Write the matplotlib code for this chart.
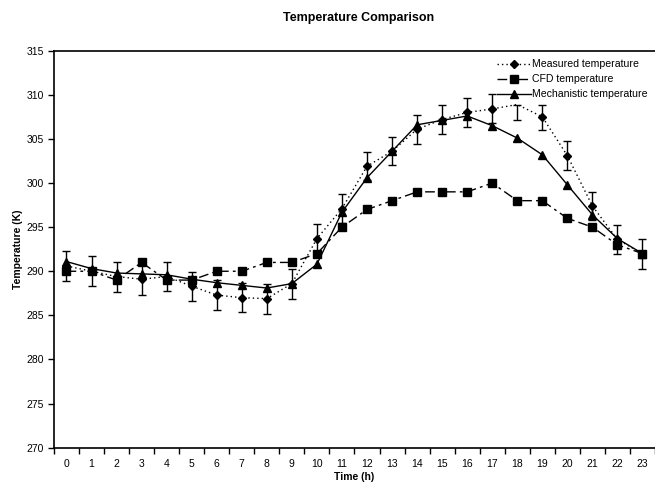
# -*- coding: utf-8 -*-

#%% Import required libraries
import matplotlib
matplotlib.use('Agg')
import matplotlib.pyplot as plt
import numpy as np

plt.rcParams['font.family'] = ['Liberation Sans', 'DejaVu Sans']

#%% Data
hours = list(range(24))
hour_labels = [str(h) for h in hours]

measured = [290.6, 290.0, 289.4, 289.1, 289.4, 288.3, 287.3, 287.0, 286.9, 288.6,
            293.7, 297.1, 301.9, 303.6, 306.1, 307.2, 308.0, 308.4, 308.9, 307.5,
            303.1, 297.4, 293.6, 292.0]
measured_err_low = [1.65, 1.7, 1.7, 1.8, 1.65, 1.65, 1.7, 1.65, 1.7, 1.7,
                    1.65, 1.65, 1.6, 1.6, 1.65, 1.65, 1.65, 1.65, 1.75, 1.5,
                    1.65, 1.6, 1.65, 1.7]
measured_err_high = [1.65, 1.7, 1.7, 1.8, 1.65, 1.65, 1.7, 1.65, 1.7, 1.7,
                     1.65, 1.65, 1.6, 1.6, 1.65, 1.65, 1.65, 1.65, 0.0, 1.3,
                     1.65, 1.6, 1.65, 1.7]
cfd = [290, 290, 289, 291, 289, 289, 290, 290, 291, 291,
       292, 295, 297, 298, 299, 299, 299, 300, 298, 298,
       296, 295, 293, 292]
mechanistic = [291.1, 290.3, 289.8, 289.7, 289.6, 289.1, 288.7, 288.4, 288.1, 288.6,
               290.8, 296.7, 300.6, 303.6, 306.6, 307.1, 307.6, 306.5, 305.1, 303.2,
               299.8, 296.4, 293.7, 292.0]

#%% Plot
fig = plt.figure(figsize=(6.55, 4.86), dpi=100)
ax = fig.add_axes([0.0824, 0.0788, 0.9176, 0.8169])

x = np.array(hours)
# no marker where the reference shows none (hour 18)
meas_marks = [i for i in hours if i != 18]

ax.errorbar(x, measured, yerr=[measured_err_low, measured_err_high], fmt='none',
            ecolor='black', elinewidth=1.0, capsize=3, capthick=1.0, zorder=2)
ax.plot(x, measured, color='black', linestyle=(0, (1, 2.2)), linewidth=1.0,
        marker='D', markersize=4.4, markevery=meas_marks, label='Measured temperature', zorder=3)
ax.plot(x, cfd, color='black', linestyle=(0, (7, 3, 2, 3)), linewidth=1.0,
        marker='s', markersize=5.2, label='CFD temperature', zorder=3)
ax.plot(x, mechanistic, color='black', linestyle='-', linewidth=1.0,
        marker='^', markersize=5.2, label='Mechanistic temperature', zorder=3)

ax.set_xlim(-0.5, 23.5)
ax.set_ylim(270, 315)
ax.set_yticks(np.arange(270, 316, 5))
ax.set_xticks(x)
ax.set_xticklabels(hour_labels)
ax.set_xticks(np.arange(-0.5, 24, 1), minor=True)
ax.tick_params(axis='x', which='major', length=0, labelsize=7.5, pad=8)
ax.tick_params(axis='x', which='minor', length=4, width=1, direction='out')
ax.tick_params(axis='y', length=4, width=1, direction='out', labelsize=7.5, pad=3)

for s in ['left', 'bottom', 'top']:
    ax.spines[s].set_linewidth(1.2)
ax.spines['right'].set_visible(False)

ax.set_xlabel('Time (h)', fontsize=7.5, fontweight='bold', labelpad=2.5)
ax.set_ylabel('Temperature (K)', fontsize=7.5, fontweight='bold', labelpad=3)
fig.text(0.548, 0.962, 'Temperature Comparison', fontsize=9, fontweight='bold',
         ha='center', va='center')

ax.legend(loc='upper right', bbox_to_anchor=(1.0, 0.997), frameon=False, fontsize=7.6,
          handlelength=3.2, handletextpad=0.1, labelspacing=0.48, borderaxespad=0.3)

fig.savefig('out.png', dpi=100)
